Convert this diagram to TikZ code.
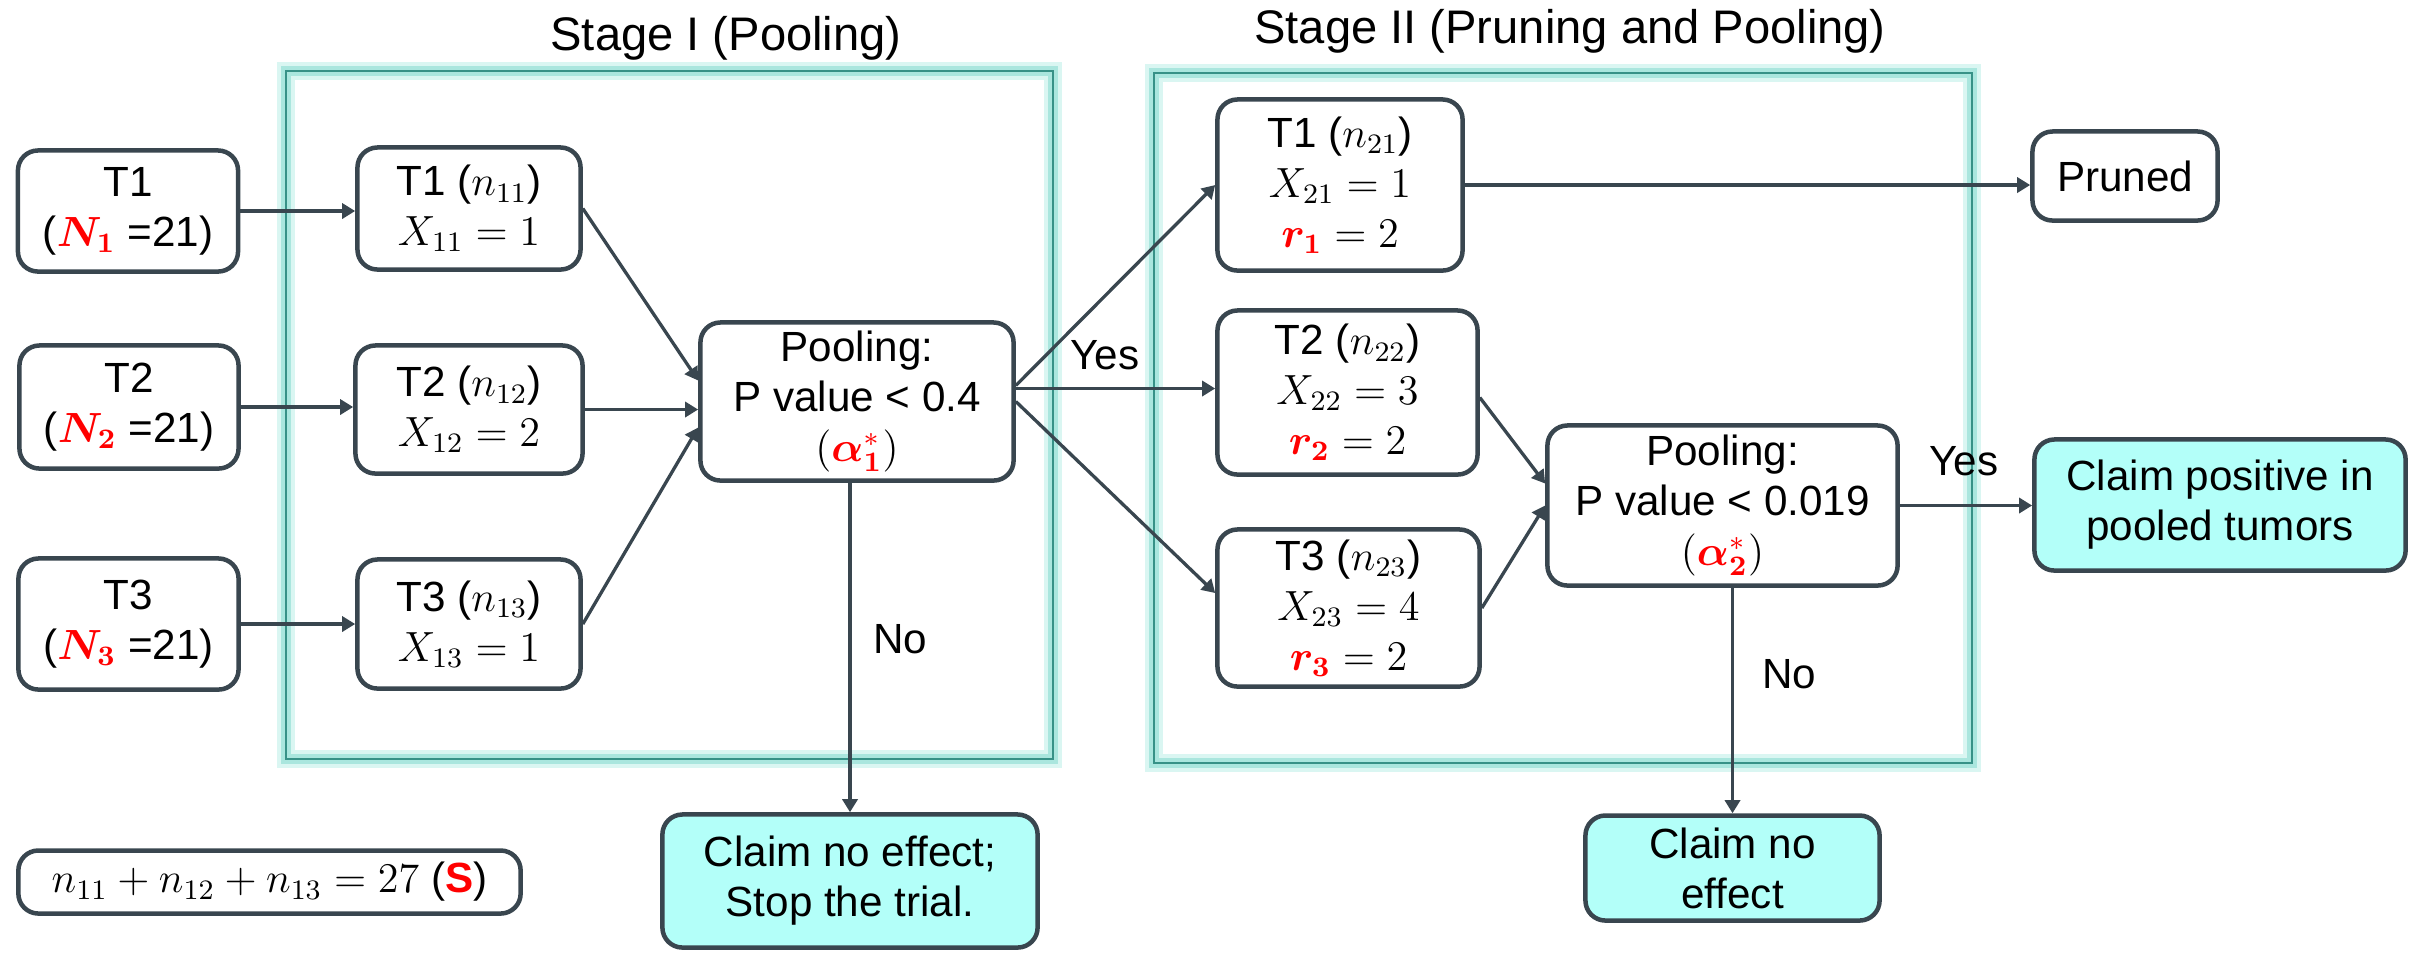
\documentclass[tikz,border=0pt]{standalone}
\usepackage{fontspec}
\setmainfont{Liberation Sans}
\usepackage{amsmath,bm}
\usetikzlibrary{arrows.meta,calc}
\definecolor{lineC}{RGB}{57,70,79}
\definecolor{cyanF}{RGB}{179,255,249}
\definecolor{tealL}{RGB}{55,145,135}
\definecolor{tealG}{RGB}{170,230,222}
\definecolor{tealGG}{RGB}{218,246,242}
\newcommand{\rd}[1]{\textcolor{red}{#1}}
\begin{document}
\begin{tikzpicture}[x=0.01cm,y=-0.01cm,
  box/.style={draw=lineC, line width=0.045cm, rounded corners=0.2cm, fill=white,
    align=center, inner sep=0pt, font=\fontsize{12}{14.2}\selectfont},
  cbox/.style={box, fill=cyanF},
  arr/.style={draw=lineC, line width=0.033cm, -{Triangle[length=0.13cm,width=0.15cm]}},
  lbl/.style={font=\fontsize{12}{14.2}\selectfont, anchor=base, inner sep=0pt},
  ttl/.style={font=\fontsize{13.4}{16}\selectfont, anchor=base, inner sep=0pt},
  glowA/.style={draw=tealGG, line width=0.18cm},
  glowB/.style={draw=tealG, line width=0.10cm},
  stageline/.style={draw=tealL, line width=0.018cm}
]
\useasboundingbox (0,0) rectangle (2410,953);

% stage frames
\foreach \s in {glowA,glowB,stageline}{
  \draw[\s] (286,71) rectangle (1053,759);
  \draw[\s] (1154,73) rectangle (1972,763);
}

% titles
\node[ttl] (st1) at (726,50) {Stage I (Pooling)};
\node[ttl] (st2) at (1570,43) {Stage II (Pruning and Pooling)};

% left inputs
\node[box, minimum width=2.20cm, minimum height=1.21cm] (t1) at (128,211)
  {T1\\(\rd{$\bm{N}_{\bm{1}}$} =21)};
\node[box, minimum width=2.19cm, minimum height=1.23cm] (t2) at (129,407)
  {T2\\(\rd{$\bm{N}_{\bm{2}}$} =21)};
\node[box, minimum width=2.20cm, minimum height=1.31cm] (t3) at (128.5,624)
  {T3\\(\rd{$\bm{N}_{\bm{3}}$} =21)};

% stage I
\node[box, minimum width=2.23cm, minimum height=1.22cm] (n11) at (469,208.5)
  {T1 ($n_{11}$)\\$X_{11}=1$};
\node[box, minimum width=2.27cm, minimum height=1.28cm] (n12) at (469,409.5)
  {T2 ($n_{12}$)\\$X_{12}=2$};
\node[box, minimum width=2.23cm, minimum height=1.29cm] (n13) at (469,624)
  {T3 ($n_{13}$)\\$X_{13}=1$};
\node[box, minimum width=3.13cm, minimum height=1.58cm] (p1) at (857,401.5)
  {Pooling:\\P value < 0.4\\$(\textcolor{red}{\bm{\alpha}^{*}_{\bm{1}}})$};

% stage II
\node[box, minimum width=2.45cm, minimum height=1.71cm] (n21) at (1340,185)
  {T1 ($n_{21}$)\\$X_{21}=1$\\$\textcolor{red}{\bm{r}_{\bm{1}}}=2$};
\node[box, minimum width=2.60cm, minimum height=1.64cm] (n22) at (1347.5,392.5)
  {T2 ($n_{22}$)\\$X_{22}=3$\\$\textcolor{red}{\bm{r}_{\bm{2}}}=2$};
\node[box, minimum width=2.62cm, minimum height=1.57cm] (n23) at (1348.5,608)
  {T3 ($n_{23}$)\\$X_{23}=4$\\$\textcolor{red}{\bm{r}_{\bm{3}}}=2$};
\node[box, minimum width=3.50cm, minimum height=1.60cm] (p2) at (1722.5,505.5)
  {Pooling:\\P value < 0.019\\$(\textcolor{red}{\bm{\alpha}^{*}_{\bm{2}}})$};

% outcomes
\node[box, minimum width=1.85cm, minimum height=0.89cm] (pruned) at (2125,176) {Pruned};
\node[cbox, minimum width=3.71cm, minimum height=1.31cm] (cp) at (2220,505)
  {Claim positive in\\pooled tumors};
\node[cbox, minimum width=2.94cm, minimum height=1.05cm] (cne) at (1732.5,868)
  {Claim no\\effect};
\node[cbox, minimum width=3.75cm, minimum height=1.33cm] (cs) at (850,881)
  {Claim no effect;\\Stop the trial.};
\node[box, minimum width=5.02cm, minimum height=0.63cm] (sum) at (269.5,882)
  {$n_{11}+n_{12}+n_{13}=27$ (\rd{\textbf{S}})};

% connectors
\draw[arr] (t1.east) -- (t1.east -| n11.west);
\draw[arr] (t2.east) -- (t2.east -| n12.west);
\draw[arr] (t3.east) -- (t3.east -| n13.west);
\draw[arr] (n11.east) -- ($(p1.west)+(0,-21)$);
\draw[arr] (n12.east) -- (n12.east -| p1.west);
\draw[arr] (n13.east) -- ($(p1.west)+(0,26)$);

\coordinate (p1a) at ($(p1.east)+(0,-16)$);
\coordinate (p1b) at ($(p1.east)+(0,-13)$);
\draw[arr] (p1a) -- (n21.west);
\draw[arr] (p1b) -- (p1b -| n22.west);
\draw[arr] (p1.east) -- ($(n23.west)+(0,-15)$);
\draw[arr] (p1.south -| cs.north) -- (cs.north);

\draw[arr] (n21.east) -- (n21.east -| pruned.west);
\draw[arr] ($(n22.east)+(0,5)$) -- ($(p2.west)+(0,-22)$);
\draw[arr] (n23.east) -- (p2.west);
\draw[arr] (p2.east) -- (p2.east -| cp.west);
\draw[arr] (p2.south -| cne.north) -- (cne.north);

% labels
\node[lbl] (yes1) at (1105,369) {Yes};
\node[lbl] (no1) at (900,653) {No};
\node[lbl] (yes2) at (1964,475) {Yes};
\node[lbl] (no2) at (1789,688) {No};
\end{tikzpicture}
\end{document}
